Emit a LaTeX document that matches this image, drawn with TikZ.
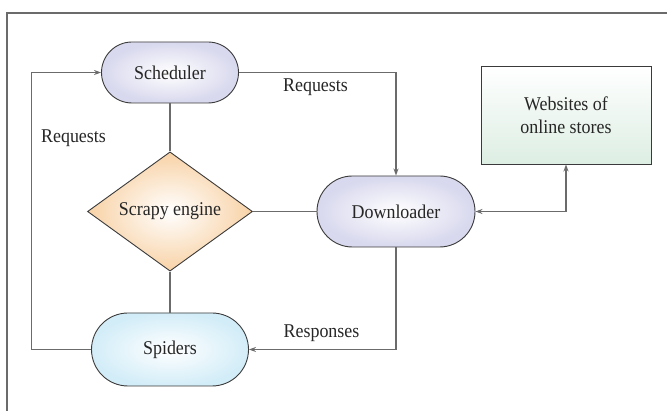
\documentclass[tikz,border=0pt]{standalone}
\usepackage{fontspec}
\setmainfont{Liberation Serif}[FakeStretch=0.92]
\usetikzlibrary{shapes.geometric,arrows.meta}

\definecolor{linegray}{HTML}{6B6B6B}
\definecolor{edgedark}{HTML}{3A3A3A}
\definecolor{txt}{HTML}{262626}
\definecolor{lav}{HTML}{D8D8EE}
\definecolor{peach}{HTML}{F8D2A6}
\definecolor{skyb}{HTML}{D3EDF8}
\definecolor{mint}{HTML}{DDEEE3}

\begin{document}
\begin{tikzpicture}[x=1pt,y=-1pt,
  lbl/.style={text=txt,font=\fontsize{19.5}{23}\selectfont},
  pill/.style={rectangle,draw=edgedark,line width=0.9pt,rounded corners=#1,
    inner sep=0pt,lbl},
  conn/.style={draw=linegray,line width=1.1pt},
  tip/.style={-{Stealth[length=7pt,width=5pt]}},
  frameline/.style={draw=linegray,line width=1.2pt}
]
\useasboundingbox (0,0) rectangle (667,411);

% outer frame (top and left edges)
\draw[frameline] (7,411) -- (7,13) -- (667,13);

% components
\node[pill=30.5pt,minimum width=137pt,minimum height=61pt,
      inner color=white,outer color=lav] (sched) at (170,72.5) {Scheduler};
\node[diamond,draw=edgedark,line width=0.9pt,inner sep=0pt,
      minimum width=165pt,minimum height=110pt,lbl,
      inner color=white,outer color=peach] (engine) at (170,211.5) {Scrapy engine};
\node[pill=35.5pt,minimum width=158pt,minimum height=71pt,
      inner color=white,outer color=lav] (down) at (396,211.5) {Downloader};
\node[pill=36.5pt,minimum width=157pt,minimum height=73pt,
      inner color=white,outer color=skyb] (spid) at (170,349.5) {Spiders};
\node[rectangle,draw=edgedark,line width=0.9pt,minimum width=170pt,
      minimum height=98pt,inner sep=0pt,lbl,align=center,
      top color=white,bottom color=mint] (web) at (566,115) {Websites of\\online stores};

% connectors
\draw[conn] (sched.south) -- (engine.north);
\draw[conn] (engine.south) -- (spid.north);
\draw[conn] (engine.east) -- (down.west);
\draw[conn,tip] (spid.west) -- ++(-59.5,0) |- (sched.west);
\draw[conn,tip] (sched.east) -| (down.north);
\draw[conn,tip] (down.south) |- (spid.east);
\draw[conn,{Stealth[length=7pt,width=5pt]}-{Stealth[length=7pt,width=5pt]}]
  (down.east) -| (web.south);

% labels
\node[lbl] (reqleft) at (73.5,138) {Requests};
\node[lbl] (reqtop) at (315.5,87) {Requests};
\node[lbl] (resp) at (321.5,333) {Responses};
\end{tikzpicture}
\end{document}
